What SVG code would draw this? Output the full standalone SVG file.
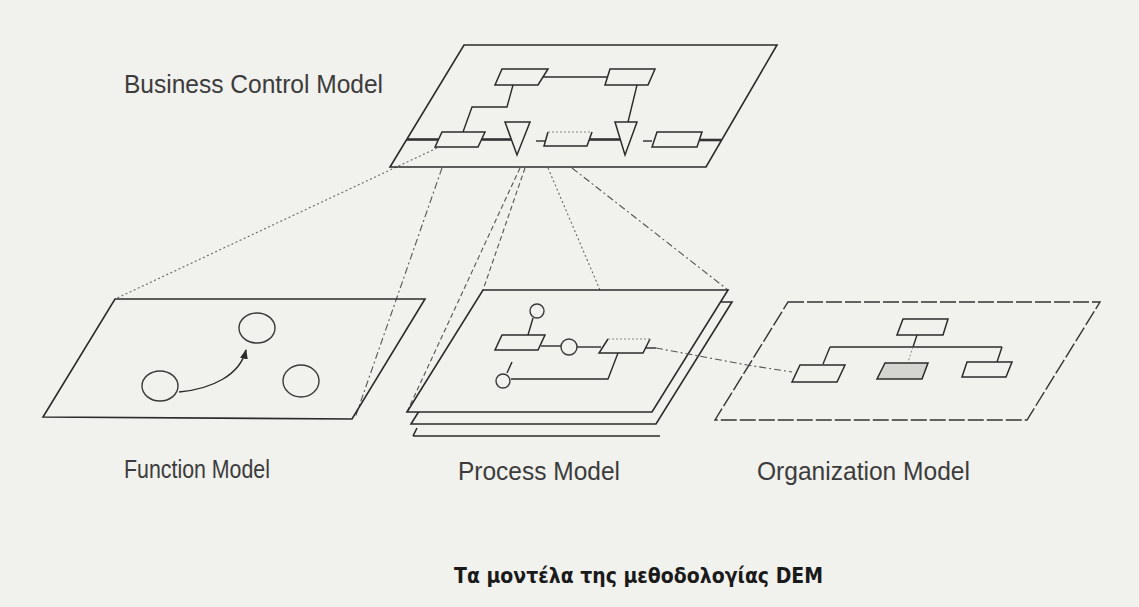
<svg xmlns="http://www.w3.org/2000/svg" width="1139" height="607" viewBox="0 0 1139 607">
<defs>
<style>
.bg{fill:#f1f1ed}
.pl{fill:none;stroke:#2b2b2b;stroke-width:1.6;stroke-linejoin:miter}
.plf{fill:#f1f1ed;stroke:#2b2b2b;stroke-width:1.6}
.bx{fill:none;stroke:#2b2b2b;stroke-width:1.5}
.ln{fill:none;stroke:#2b2b2b;stroke-width:1.4}
.thk{fill:none;stroke:#333;stroke-width:2.6}
.faint{fill:none;stroke:#888;stroke-width:1;stroke-dasharray:2 2}
.el{fill:none;stroke:#3a3a3a;stroke-width:1.4}
.dot{fill:none;stroke:#666;stroke-width:1.1;stroke-dasharray:2 2.5}
.dash{fill:none;stroke:#555;stroke-width:1.1;stroke-dasharray:5 3}
.dd{fill:none;stroke:#555;stroke-width:1.1;stroke-dasharray:7 3 2 3}
.org{fill:none;stroke:#333;stroke-width:1.4;stroke-dasharray:16 3}
.lbl{font-family:"Liberation Sans",Arial,sans-serif;font-size:25px;fill:#3c3c3c}
.cap{font-family:"DejaVu Sans","Liberation Sans",sans-serif;font-size:21.5px;font-weight:bold;fill:#1a1a1a}
</style>
<marker id="ah" viewBox="0 0 10 10" refX="9" refY="5" markerWidth="7" markerHeight="7" orient="auto">
<path d="M0,1 L10,5 L0,9 Z" fill="#2b2b2b"/>
</marker>
</defs>
<rect class="bg" x="0" y="0" width="1139" height="607"/>

<g id="connectors">
<line class="dot" x1="437" y1="148" x2="115" y2="299"/>
<line class="dd" x1="442" y1="168" x2="355" y2="418"/>
<line class="dash" x1="520" y1="168" x2="407" y2="412"/>
<line class="dash" x1="525" y1="168" x2="483" y2="290"/>
<line class="dot" x1="548" y1="168" x2="652" y2="412"/>
<line class="dd" x1="572" y1="168" x2="728" y2="290"/>
</g>

<g id="business-control-model">
<polygon class="pl" points="464,45 777,45 706,167 390,167"/>
<polygon class="bx" points="502,69 548,69 538,85 495,85"/>
<polygon class="bx" points="610,69 655,69 648,85 605,85"/>
<line class="ln" x1="543" y1="77" x2="607" y2="77"/>
<polyline class="ln" points="513,85 507,107 472,107 463,132"/>
<polygon class="bx" points="442,132 485,132 478,147 435,147"/>
<line class="thk" x1="407" y1="139.5" x2="438" y2="139.5"/>
<line class="thk" x1="482" y1="139.5" x2="511" y2="139.5"/>
<polygon class="bx" points="505,122 530,122 517,155"/>
<line class="ln" x1="536" y1="141" x2="546" y2="141"/>
<path class="bx" d="M548,132 L544,146 L587,146 L592,132"/>
<line class="faint" x1="548" y1="132" x2="592" y2="132"/>
<line class="thk" x1="589" y1="139.5" x2="620" y2="139.5"/>
<line class="ln" x1="637" y1="85" x2="628" y2="122"/>
<polygon class="bx" points="615,122 637,122 625,155"/>
<line class="ln" x1="643" y1="141" x2="652" y2="141"/>
<polygon class="bx" points="657,132 702,132 697,147 652,147"/>
<line class="thk" x1="699" y1="140" x2="721" y2="140"/>
<text class="lbl" x="124" y="93" textLength="259" lengthAdjust="spacingAndGlyphs">Business Control Model</text>
</g>

<g id="function-model">
<polygon class="pl" points="115,299 425,299 352,419 43,417"/>
<ellipse class="el" cx="257" cy="328" rx="18" ry="15"/>
<ellipse class="el" cx="160" cy="386" rx="18" ry="15"/>
<ellipse class="el" cx="301" cy="381" rx="18" ry="16"/>
<path class="ln" d="M179,392 C212,389 240,375 246,350" marker-end="url(#ah)"/>
<text class="lbl" x="124" y="478" textLength="146" lengthAdjust="spacingAndGlyphs">Function Model</text>
</g>

<g id="process-model">
<path class="pl" d="M413,436 L417,428 M413,436 L660,436"/>
<polygon class="plf" points="487,302 732,302 656,424 411,424"/>
<polygon class="plf" points="483,290 728,290 652,412 407,412"/>
<circle class="el" cx="537" cy="311" r="7"/>
<line class="ln" x1="533" y1="318" x2="528" y2="335"/>
<polygon class="bx" points="502,335 545,335 538,350 495,350"/>
<line class="ln" x1="541" y1="346" x2="561" y2="346"/>
<circle class="el" cx="569" cy="347" r="8"/>
<line class="ln" x1="577" y1="347" x2="601" y2="347"/>
<path class="bx" d="M608,339 L599,353 L643,353 L650,339"/>
<line class="faint" x1="608" y1="339" x2="650" y2="339"/>
<line class="ln" x1="645" y1="348" x2="656" y2="348"/>
<polyline class="ln" points="618,353 608,379 511,379"/>
<circle class="el" cx="503" cy="381" r="7"/>
<line class="ln" x1="507" y1="373" x2="512" y2="362"/>
<text class="lbl" x="458" y="480" textLength="162" lengthAdjust="spacingAndGlyphs">Process Model</text>
</g>

<g id="organization-model">
<polygon class="org" points="788,302 1100,302 1027,420 715,420"/>
<polygon class="bx" points="903,319 948,319 943,335 897,335"/>
<line class="ln" x1="917" y1="335" x2="913" y2="347"/>
<line class="ln" x1="830" y1="347" x2="1002" y2="347"/>
<line class="ln" x1="830" y1="347" x2="823" y2="364"/>
<line class="faint" x1="913" y1="347" x2="908" y2="362"/>
<line class="ln" x1="1002" y1="347" x2="997" y2="362"/>
<polygon class="bx" points="800,365 845,365 837,382 792,382"/>
<polygon class="bx" points="885,363 928,363 922,379 877,379" style="fill:#d4d4d0"/>
<polygon class="bx" points="967,362 1012,362 1006,377 962,377"/>
<text class="lbl" x="757" y="480" textLength="213" lengthAdjust="spacingAndGlyphs">Organization Model</text>
</g>

<g id="process-org-link">
<polyline class="dd" points="656,348 747,365 792,372"/>
</g>

<text class="cap" x="454" y="583" textLength="369" lengthAdjust="spacingAndGlyphs">Τα μοντέλα της μεθοδολογίας DEM</text>
</svg>
